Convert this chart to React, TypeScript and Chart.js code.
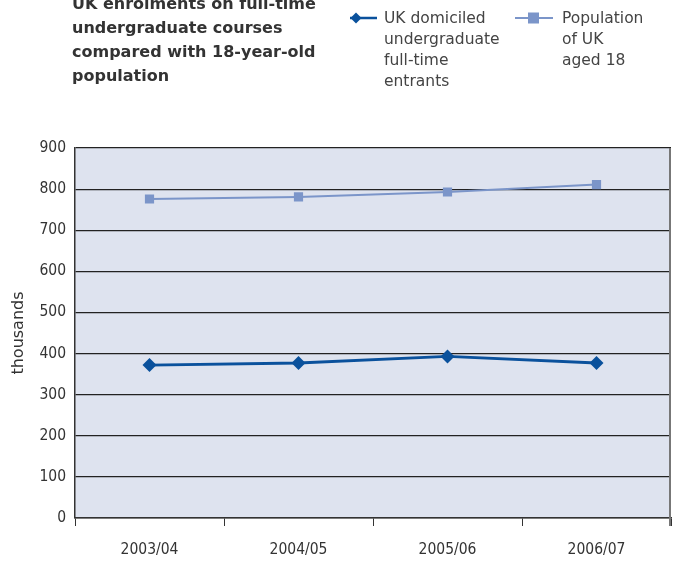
import React, { useEffect, useRef } from "react";
import { Chart, registerables } from "chart.js";

Chart.register(...registerables);

const categories = ["2003/04", "2004/05", "2005/06", "2006/07"];
const entrants = [372, 377, 393, 377];
const population18 = [776, 781, 793, 811];
const titleLines = ["UK enrolments on full-time", "undergraduate courses", "compared with 18-year-old", "population"];
const legend1Lines = ["UK domiciled", "undergraduate", "full-time", "entrants"];
const legend2Lines = ["Population", "of UK", "aged 18"];
const yTitle = "thousands";

const C1 = "#0a519c";
const C2 = "#7b95c9";
const NUM = "'DejaVu Sans Condensed', Roboto, sans-serif";
const TXT = "'DejaVu Sans', Roboto, sans-serif";

const decorPlugin = {
  id: "decor",
  beforeDraw(chart: any) {
    const { ctx, chartArea: a } = chart;
    ctx.save();
    ctx.fillStyle = "#dee3ef";
    ctx.fillRect(a.left, a.top, a.right - a.left, a.bottom - a.top);
    ctx.restore();
  },
  afterDraw(chart: any) {
    const { ctx, chartArea: a } = chart;
    ctx.save();
    // right border
    ctx.strokeStyle = "#777";
    ctx.lineWidth = 2;
    ctx.beginPath();
    ctx.moveTo(a.right - 1, a.top);
    ctx.lineTo(a.right - 1, a.bottom + 8);
    ctx.stroke();
    // title
    ctx.fillStyle = "#333";
    ctx.textBaseline = "middle";
    ctx.textAlign = "left";
    ctx.font = `bold 16px ${TXT}`;
    titleLines.forEach((t, i) => ctx.fillText(t, 72, 5 + i * 24));
    // legend
    ctx.font = `15.5px ${TXT}`;
    ctx.fillStyle = "#444";
    legend1Lines.forEach((t, i) => ctx.fillText(t, 384, 19 + i * 21));
    legend2Lines.forEach((t, i) => ctx.fillText(t, 562, 19 + i * 21));
    // legend markers
    ctx.strokeStyle = C1;
    ctx.lineWidth = 2.5;
    ctx.beginPath();
    ctx.moveTo(350, 18);
    ctx.lineTo(377, 18);
    ctx.stroke();
    ctx.fillStyle = C1;
    ctx.beginPath();
    ctx.moveTo(356, 12.5);
    ctx.lineTo(361.5, 18);
    ctx.lineTo(356, 23.5);
    ctx.lineTo(350.5, 18);
    ctx.closePath();
    ctx.fill();
    ctx.strokeStyle = C2;
    ctx.lineWidth = 2;
    ctx.beginPath();
    ctx.moveTo(515, 18);
    ctx.lineTo(553, 18);
    ctx.stroke();
    ctx.fillStyle = C2;
    ctx.fillRect(528, 12.5, 11, 11);
    ctx.restore();
  },
};

export default function App() {
  const ref = useRef<HTMLCanvasElement>(null);
  useEffect(() => {
    if (!ref.current) return;
    const chart = new Chart(ref.current, {
      type: "line",
      data: {
        labels: categories,
        datasets: [
          {
            label: "UK domiciled undergraduate full-time entrants",
            data: entrants,
            borderColor: C1,
            backgroundColor: C1,
            borderWidth: 2.8,
            pointStyle: "rectRot",
            pointRadius: 7,
            pointBorderWidth: 0,
            tension: 0,
          },
          {
            label: "Population of UK aged 18",
            data: population18,
            borderColor: C2,
            backgroundColor: C2,
            borderWidth: 2,
            pointStyle: "rect",
            pointRadius: 6.5,
            pointBorderWidth: 0,
            tension: 0,
          },
        ],
      },
      options: {
        responsive: false,
        animation: false,
        layout: { autoPadding: false, padding: { top: 148, right: 4, left: 0, bottom: 0 } },
        plugins: { legend: { display: false }, title: { display: false }, tooltip: { enabled: false } },
        scales: {
          x: {
            offset: true,
            grid: { display: true, drawOnChartArea: false, drawTicks: true, tickLength: 8, color: "#333", offset: true },
            border: { display: true, color: "#333", width: 1.5 },
            ticks: { color: "#333", font: { family: NUM, size: 15.5 }, padding: 15 },
            afterFit: (s: any) => { s.height = 45; s.paddingLeft = 0; s.paddingRight = 0; },
          },
          y: {
            min: 0,
            max: 900,
            ticks: { stepSize: 100, color: "#333", font: { family: NUM, size: 15.5 }, padding: 9 },
            grid: { color: "#222", lineWidth: 1.2, drawTicks: false },
            border: { display: true, color: "#333", width: 1.5 },
            title: { display: true, text: yTitle, color: "#333", font: { family: TXT, size: 16 }, padding: { top: 9, bottom: 0 } },
            afterFit: (s: any) => { s.width = 75; s.paddingTop = 0; s.paddingBottom = 0; },
          },
        },
      },
      plugins: [decorPlugin],
    });
    return () => chart.destroy();
  }, []);
  return (
    <div style={{ position: "fixed", left: 0, top: 0, width: 675, height: 563, background: "#fff" }}>
      <canvas ref={ref} width={675} height={563} style={{ display: "block" }} />
    </div>
  );
}
